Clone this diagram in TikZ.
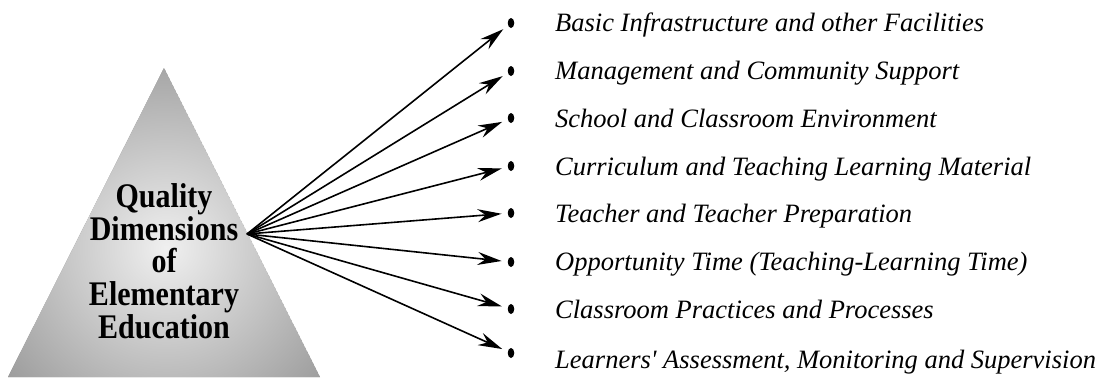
\documentclass[tikz,border=0pt]{standalone}
\usepackage{fontspec}
\setmainfont{Liberation Serif}[Ligatures=TeXOff]
\newfontfamily\trifont{Liberation Serif}[FakeStretch=0.87]
\usetikzlibrary{arrows.meta,shapes.geometric}
\begin{document}
\begin{tikzpicture}[x=1bp,y=-1bp,
  conn/.style={line width=1.6bp,-{Stealth[length=24bp,width=13bp,inset=8bp]},shorten >=6bp},
  dotnode/.style={shape=ellipse,fill=black,inner sep=0pt,minimum width=6.5bp,minimum height=10bp},
  item/.style={anchor=base west,inner sep=0pt,font=\fontsize{26.5bp}{30bp}\selectfont\itshape},
  tritext/.style={align=center,inner sep=0pt,font=\trifont\bfseries\fontsize{34.5bp}{32.75bp}\selectfont}]
\useasboundingbox (0,0) rectangle (1102,377);
% triangle
\coordinate (A) at (164,68);
\coordinate (B) at (8,377);
\coordinate (C) at (320,377);
\begin{scope}
  \clip (A) -- (B) -- (C) -- cycle;
  \fill[black!46] (A) -- (B) -- (C) -- cycle;
  \shade[inner color=black!6, outer color=black!46] (166,248) circle (250);
\end{scope}
\node[tritext] (title) at (164,261) {Quality\\Dimensions\\of\\Elementary\\Education};
% origin of connectors
\coordinate (o) at (247,234);
% bullets
\node[dotnode] (b1) at (511,23) {};
\node[dotnode] (b2) at (511,71) {};
\node[dotnode] (b3) at (511,118) {};
\node[dotnode] (b4) at (511,166) {};
\node[dotnode] (b5) at (511,213) {};
\node[dotnode] (b6) at (511,262) {};
\node[dotnode] (b7) at (511,309) {};
\node[dotnode] (b8) at (511,353) {};
% labels
\node[item] (l1) at (555,31.7) {Basic Infrastructure and other Facilities};
\node[item] (l2) at (555,79) {Management and Community Support};
\node[item] (l3) at (555,127) {School and Classroom Environment};
\node[item] (l4) at (555,175) {Curriculum and Teaching Learning Material};
\node[item] (l5) at (555,222) {Teacher and Teacher Preparation};
\node[item] (l6) at (555,270) {Opportunity Time (Teaching-Learning Time)};
\node[item] (l7) at (555,318) {Classroom Practices and Processes};
\node[item] (l8) at (555,368) {Learners' Assessment, Monitoring and Supervision};
% connectors
\foreach \i in {1,...,8} \draw[conn] (o) -- (b\i);
\end{tikzpicture}
\end{document}
